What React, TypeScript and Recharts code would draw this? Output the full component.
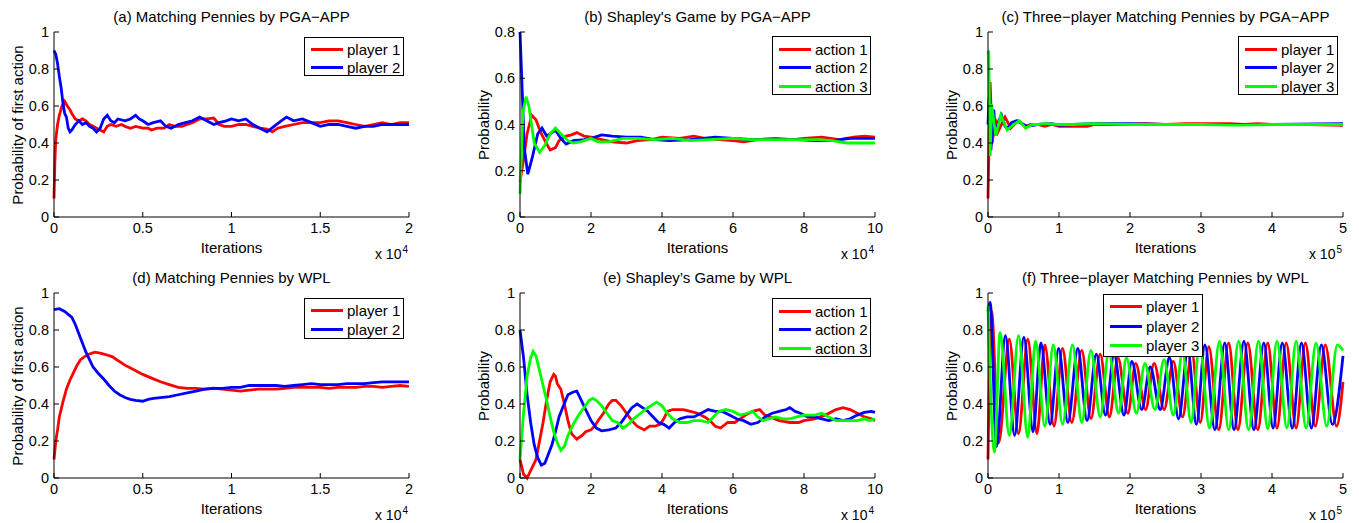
import React from 'react';
import { LineChart, Line, XAxis, YAxis, Legend } from 'recharts';

type Pt = [number, number];

const FONT = '"Liberation Sans", Arial, Helvetica, sans-serif';
const RED = '#ff0000';
const BLUE = '#0000ff';
const GREEN = '#00ff00';

// ---- tick label arrays ----
const xTicksA = [0, 0.5, 1, 1.5, 2];
const xTicksB = [0, 2, 4, 6, 8, 10];
const xTicksC = [0, 1, 2, 3, 4, 5];
const yTicks1 = [0, 0.2, 0.4, 0.6, 0.8, 1];
const yTicks08 = [0, 0.2, 0.4, 0.6, 0.8];

const playerNames = ['player 1', 'player 2', 'player 3'];
const actionNames = ['action 1', 'action 2', 'action 3'];

// ---- (a) Matching Pennies by PGA-APP (x in 1e4) ----
const aP1: Pt[] = [[0,0.1],[0.005,0.3],[0.01,0.42],[0.02,0.5],[0.03,0.55],[0.045,0.6],[0.06,0.625],[0.075,0.6],[0.09,0.58],[0.1,0.56],[0.12,0.53],[0.14,0.52],[0.16,0.53],[0.18,0.52],[0.2,0.5],[0.22,0.49],[0.24,0.48],[0.26,0.47],[0.28,0.46],[0.3,0.49],[0.32,0.5],[0.35,0.49],[0.38,0.5],[0.4,0.49],[0.43,0.48],[0.46,0.49],[0.5,0.48],[0.53,0.48],[0.55,0.47],[0.58,0.48],[0.62,0.48],[0.65,0.5],[0.68,0.49],[0.72,0.49],[0.75,0.5],[0.78,0.51],[0.82,0.53],[0.86,0.53],[0.9,0.535],[0.93,0.5],[0.96,0.49],[1.0,0.49],[1.04,0.5],[1.08,0.5],[1.12,0.49],[1.16,0.48],[1.2,0.475],[1.23,0.46],[1.26,0.48],[1.3,0.49],[1.35,0.5],[1.4,0.51],[1.45,0.51],[1.5,0.51],[1.55,0.52],[1.6,0.52],[1.65,0.51],[1.7,0.5],[1.75,0.49],[1.8,0.5],[1.85,0.51],[1.9,0.5],[1.95,0.51],[2.0,0.51]];
const aP2: Pt[] = [[0,0.9],[0.01,0.88],[0.02,0.83],[0.03,0.76],[0.04,0.7],[0.05,0.62],[0.06,0.56],[0.07,0.54],[0.08,0.48],[0.09,0.46],[0.1,0.47],[0.12,0.5],[0.14,0.52],[0.16,0.5],[0.18,0.51],[0.2,0.49],[0.22,0.48],[0.24,0.46],[0.26,0.48],[0.28,0.53],[0.3,0.55],[0.32,0.52],[0.34,0.51],[0.36,0.53],[0.4,0.52],[0.43,0.53],[0.46,0.55],[0.48,0.53],[0.5,0.52],[0.53,0.5],[0.56,0.51],[0.6,0.52],[0.63,0.49],[0.66,0.48],[0.7,0.5],[0.74,0.51],[0.78,0.52],[0.82,0.54],[0.86,0.52],[0.9,0.5],[0.93,0.51],[0.97,0.52],[1.0,0.53],[1.04,0.52],[1.08,0.53],[1.12,0.5],[1.16,0.48],[1.2,0.46],[1.24,0.49],[1.28,0.52],[1.31,0.54],[1.35,0.52],[1.4,0.53],[1.45,0.51],[1.5,0.49],[1.55,0.5],[1.6,0.5],[1.65,0.49],[1.7,0.48],[1.75,0.49],[1.8,0.49],[1.85,0.5],[1.9,0.5],[1.95,0.5],[2.0,0.5]];

// ---- (b) Shapley's Game by PGA-APP (x in 1e4) ----
const bA1: Pt[] = [[0,0.15],[0.1,0.25],[0.2,0.36],[0.33,0.44],[0.45,0.42],[0.6,0.36],[0.7,0.33],[0.85,0.29],[1.0,0.3],[1.1,0.33],[1.3,0.35],[1.45,0.355],[1.6,0.365],[1.8,0.35],[2.0,0.345],[2.3,0.335],[2.6,0.325],[3.0,0.32],[3.3,0.33],[3.7,0.335],[4.0,0.345],[4.5,0.34],[4.9,0.35],[5.2,0.34],[5.6,0.335],[6.0,0.33],[6.3,0.325],[6.7,0.335],[7.2,0.34],[7.7,0.335],[8.0,0.34],[8.5,0.345],[9.0,0.335],[9.4,0.345],[9.7,0.35],[10,0.345]];
const bA2: Pt[] = [[0,0.8],[0.05,0.6],[0.12,0.3],[0.22,0.185],[0.35,0.26],[0.5,0.36],[0.62,0.385],[0.75,0.35],[0.85,0.36],[1.0,0.375],[1.15,0.34],[1.3,0.315],[1.5,0.33],[1.8,0.335],[2.0,0.34],[2.3,0.355],[2.6,0.35],[3.0,0.345],[3.4,0.345],[3.8,0.335],[4.2,0.33],[4.8,0.335],[5.5,0.345],[6.0,0.34],[6.6,0.335],[7.2,0.335],[7.8,0.335],[8.3,0.33],[8.8,0.33],[9.3,0.34],[10,0.34]];
const bA3: Pt[] = [[0,0.1],[0.08,0.45],[0.17,0.52],[0.25,0.48],[0.4,0.32],[0.55,0.28],[0.7,0.31],[0.85,0.36],[1.0,0.385],[1.15,0.36],[1.35,0.33],[1.5,0.32],[1.7,0.325],[2.0,0.34],[2.2,0.325],[2.5,0.325],[2.9,0.34],[3.3,0.34],[3.8,0.335],[4.3,0.34],[4.8,0.33],[5.3,0.335],[6.0,0.34],[6.5,0.335],[7.2,0.335],[7.8,0.335],[8.4,0.335],[8.8,0.33],[9.2,0.32],[9.6,0.32],[10,0.32]];

// ---- (c) Three-player Matching Pennies by PGA-APP (x in 1e5) ----
const cP1: Pt[] = [[0,0.1],[0.03,0.73],[0.06,0.4],[0.1,0.53],[0.14,0.46],[0.24,0.54],[0.32,0.48],[0.42,0.52],[0.53,0.49],[0.6,0.5],[0.7,0.5],[0.8,0.49],[0.9,0.5],[1.0,0.49],[1.2,0.49],[1.4,0.49],[1.5,0.5],[1.7,0.5],[2.0,0.5],[2.2,0.505],[2.5,0.5],[2.8,0.505],[3.0,0.505],[3.4,0.505],[3.6,0.5],[3.8,0.505],[4.0,0.5],[4.5,0.5],[5,0.495]];
const cP2: Pt[] = [[0,0.5],[0.015,0.65],[0.04,0.36],[0.06,0.45],[0.08,0.58],[0.11,0.44],[0.15,0.52],[0.19,0.55],[0.24,0.49],[0.28,0.48],[0.33,0.51],[0.4,0.52],[0.46,0.51],[0.55,0.49],[0.7,0.5],[0.9,0.505],[1.0,0.495],[1.2,0.5],[1.5,0.505],[2,0.505],[2.5,0.5],[3,0.5],[3.5,0.5],[4,0.5],[5,0.505]];
const cP3: Pt[] = [[0,0.88],[0.01,0.9],[0.03,0.33],[0.05,0.61],[0.11,0.44],[0.18,0.55],[0.27,0.47],[0.36,0.5],[0.44,0.52],[0.53,0.48],[0.62,0.5],[0.7,0.5],[0.8,0.505],[1.0,0.5],[1.2,0.5],[1.5,0.505],[2,0.5],[2.5,0.5],[3,0.5],[3.5,0.497],[4,0.5],[4.5,0.5],[5,0.5]];

// ---- (d) Matching Pennies by WPL (x in 1e4) ----
const dP1: Pt[] = [[0,0.1],[0.01,0.2],[0.02,0.26],[0.03,0.33],[0.05,0.41],[0.07,0.48],[0.09,0.53],[0.11,0.57],[0.13,0.61],[0.15,0.64],[0.17,0.655],[0.2,0.67],[0.23,0.68],[0.26,0.675],[0.3,0.665],[0.33,0.655],[0.36,0.635],[0.4,0.61],[0.45,0.585],[0.5,0.56],[0.55,0.54],[0.6,0.52],[0.65,0.505],[0.7,0.49],[0.75,0.485],[0.8,0.485],[0.85,0.48],[0.9,0.485],[0.95,0.48],[1.0,0.475],[1.05,0.47],[1.1,0.475],[1.15,0.48],[1.2,0.48],[1.25,0.48],[1.3,0.485],[1.35,0.49],[1.4,0.49],[1.45,0.49],[1.5,0.49],[1.55,0.485],[1.6,0.49],[1.65,0.49],[1.7,0.49],[1.75,0.495],[1.8,0.495],[1.85,0.49],[1.9,0.495],[1.95,0.5],[2.0,0.495]];
const dP2: Pt[] = [[0,0.91],[0.03,0.915],[0.06,0.9],[0.08,0.885],[0.1,0.87],[0.12,0.83],[0.14,0.78],[0.16,0.73],[0.18,0.68],[0.2,0.64],[0.22,0.6],[0.25,0.565],[0.28,0.535],[0.31,0.5],[0.34,0.47],[0.37,0.45],[0.4,0.435],[0.43,0.425],[0.46,0.42],[0.5,0.415],[0.53,0.425],[0.56,0.43],[0.6,0.435],[0.65,0.44],[0.7,0.45],[0.75,0.46],[0.8,0.47],[0.85,0.48],[0.9,0.485],[0.95,0.485],[1.0,0.49],[1.05,0.49],[1.1,0.5],[1.15,0.5],[1.2,0.5],[1.25,0.5],[1.3,0.495],[1.35,0.5],[1.4,0.505],[1.45,0.51],[1.5,0.505],[1.55,0.505],[1.6,0.505],[1.65,0.51],[1.7,0.51],[1.75,0.51],[1.8,0.515],[1.85,0.52],[1.9,0.52],[1.95,0.52],[2.0,0.52]];

// ---- (e) Shapley's Game by WPL (x in 1e4) ----
const eA1: Pt[] = [[0,0.1],[0.1,0.02],[0.2,0.0],[0.3,0.04],[0.45,0.1],[0.55,0.2],[0.65,0.3],[0.75,0.42],[0.85,0.52],[0.95,0.56],[1.0,0.55],[1.05,0.51],[1.15,0.48],[1.25,0.4],[1.35,0.31],[1.45,0.24],[1.6,0.21],[1.75,0.23],[1.85,0.25],[2.0,0.26],[2.1,0.28],[2.2,0.31],[2.35,0.35],[2.5,0.4],[2.6,0.42],[2.7,0.42],[2.85,0.39],[3.0,0.35],[3.15,0.31],[3.3,0.28],[3.5,0.26],[3.65,0.28],[3.8,0.28],[3.95,0.29],[4.05,0.32],[4.15,0.36],[4.3,0.37],[4.45,0.37],[4.6,0.37],[4.8,0.36],[5.0,0.35],[5.2,0.33],[5.35,0.31],[5.5,0.28],[5.65,0.27],[5.85,0.3],[6.05,0.3],[6.2,0.32],[6.35,0.34],[6.55,0.36],[6.75,0.37],[6.9,0.34],[7.05,0.33],[7.3,0.31],[7.6,0.3],[7.85,0.3],[8.0,0.31],[8.3,0.32],[8.6,0.34],[8.9,0.37],[9.1,0.38],[9.3,0.37],[9.5,0.35],[9.7,0.33],[9.9,0.32],[10,0.31]];
const eA2: Pt[] = [[0,0.8],[0.1,0.65],[0.2,0.45],[0.3,0.3],[0.4,0.18],[0.5,0.11],[0.6,0.07],[0.7,0.08],[0.8,0.13],[0.9,0.18],[1.0,0.25],[1.1,0.33],[1.2,0.38],[1.35,0.45],[1.5,0.465],[1.6,0.47],[1.7,0.43],[1.85,0.37],[2.0,0.31],[2.15,0.27],[2.3,0.255],[2.5,0.26],[2.7,0.27],[2.85,0.3],[3.0,0.34],[3.15,0.38],[3.3,0.4],[3.45,0.38],[3.6,0.36],[3.75,0.33],[3.9,0.3],[4.05,0.29],[4.2,0.27],[4.35,0.3],[4.5,0.32],[4.7,0.33],[4.9,0.33],[5.1,0.35],[5.3,0.37],[5.5,0.36],[5.7,0.36],[5.9,0.34],[6.1,0.32],[6.3,0.31],[6.5,0.29],[6.7,0.3],[6.9,0.33],[7.1,0.35],[7.3,0.36],[7.5,0.37],[7.6,0.38],[7.75,0.36],[7.9,0.35],[8.1,0.33],[8.3,0.33],[8.5,0.32],[8.7,0.31],[8.9,0.32],[9.1,0.31],[9.3,0.32],[9.5,0.34],[9.7,0.355],[9.9,0.36],[10,0.355]];
const eA3: Pt[] = [[0,0.1],[0.1,0.35],[0.2,0.55],[0.3,0.65],[0.37,0.685],[0.45,0.66],[0.55,0.58],[0.65,0.5],[0.75,0.42],[0.85,0.33],[0.95,0.25],[1.05,0.19],[1.15,0.15],[1.25,0.17],[1.35,0.23],[1.5,0.29],[1.65,0.34],[1.8,0.38],[1.95,0.42],[2.05,0.43],[2.15,0.42],[2.3,0.39],[2.45,0.35],[2.6,0.31],[2.75,0.3],[2.9,0.27],[3.05,0.29],[3.2,0.32],[3.4,0.35],[3.6,0.38],[3.85,0.41],[4.0,0.39],[4.15,0.35],[4.3,0.32],[4.5,0.3],[4.7,0.3],[4.9,0.31],[5.1,0.31],[5.3,0.3],[5.45,0.33],[5.6,0.36],[5.8,0.37],[6.0,0.36],[6.2,0.34],[6.4,0.35],[6.55,0.36],[6.7,0.33],[6.85,0.31],[7.0,0.32],[7.2,0.33],[7.4,0.32],[7.6,0.32],[7.8,0.33],[8.0,0.34],[8.3,0.34],[8.5,0.35],[8.7,0.33],[8.9,0.31],[9.1,0.31],[9.3,0.31],[9.5,0.31],[9.7,0.32],[9.85,0.31],[10,0.32]];

// ---- (f) Three-player Matching Pennies by WPL (x in 1e5), extrema ----
const fP1: Pt[] = [[0,0.1],[0.05,0.9],[0.15,0.19],[0.3,0.75],[0.43,0.24],[0.56,0.75],[0.69,0.24],[0.8,0.72],[0.93,0.28],[1.05,0.7],[1.18,0.3],[1.32,0.69],[1.45,0.32],[1.58,0.67],[1.71,0.33],[1.83,0.65],[1.97,0.35],[2.08,0.62],[2.22,0.37],[2.34,0.62],[2.48,0.37],[2.61,0.63],[2.74,0.33],[2.87,0.68],[2.99,0.3],[3.11,0.71],[3.25,0.26],[3.39,0.73],[3.52,0.26],[3.66,0.73],[3.8,0.26],[3.94,0.73],[4.07,0.27],[4.2,0.73],[4.34,0.27],[4.47,0.73],[4.61,0.28],[4.75,0.72],[4.91,0.28],[5.0,0.52]];
const fP2: Pt[] = [[0,0.9],[0.03,0.95],[0.12,0.17],[0.245,0.77],[0.375,0.23],[0.505,0.76],[0.635,0.25],[0.745,0.73],[0.875,0.29],[0.995,0.7],[1.125,0.3],[1.265,0.7],[1.395,0.31],[1.525,0.67],[1.655,0.34],[1.775,0.67],[1.915,0.34],[2.025,0.63],[2.165,0.37],[2.285,0.6],[2.425,0.37],[2.555,0.65],[2.685,0.32],[2.815,0.69],[2.935,0.29],[3.055,0.72],[3.195,0.26],[3.335,0.73],[3.465,0.26],[3.605,0.74],[3.745,0.26],[3.885,0.73],[4.015,0.27],[4.145,0.73],[4.285,0.27],[4.415,0.73],[4.555,0.27],[4.695,0.72],[4.85,0.29],[5.0,0.66]];
const fP3: Pt[] = [[0,0.93],[0.09,0.14],[0.17,0.785],[0.3,0.23],[0.43,0.77],[0.56,0.22],[0.67,0.74],[0.8,0.28],[0.92,0.72],[1.05,0.29],[1.19,0.72],[1.32,0.3],[1.45,0.69],[1.58,0.33],[1.7,0.68],[1.84,0.35],[1.95,0.65],[2.09,0.35],[2.21,0.62],[2.35,0.37],[2.48,0.64],[2.61,0.34],[2.74,0.68],[2.86,0.3],[2.98,0.72],[3.12,0.27],[3.26,0.74],[3.39,0.26],[3.53,0.74],[3.67,0.26],[3.81,0.74],[3.94,0.265],[4.07,0.74],[4.21,0.27],[4.34,0.74],[4.48,0.27],[4.62,0.73],[4.77,0.28],[4.92,0.72],[5.0,0.69]];

// ---- layout constants ----
const W = 420;
const H = 262;
const PL = 54;
const PT = 32;
const PW = 355;
const PH = 185;
const XH = 30;

type Series = { name: string; color: string; pts: Pt[] };
type LegendBox = { x: number; y: number; w: number; h: number; row: number; pad: number };

const BoxLegend = ({ payload, box }: { payload?: any[]; box: LegendBox }) => (
  <div
    style={{
      width: box.w,
      height: box.h,
      border: '1px solid #000',
      background: '#fff',
      boxSizing: 'border-box',
      paddingTop: box.pad,
      fontFamily: FONT,
    }}
  >
    {(payload || []).map((p: any) => (
      <div key={p.value} style={{ display: 'flex', alignItems: 'center', height: box.row }}>
        <div style={{ width: 32, height: 3, background: p.color, marginLeft: 6, marginRight: 4 }} />
        <span style={{ fontSize: 15, lineHeight: '15px', color: '#000', whiteSpace: 'nowrap' }}>{p.value}</span>
      </div>
    ))}
  </div>
);

function Panel(props: {
  x: number;
  y: number;
  title: string;
  ylabel: string;
  xmax: number;
  xticks: number[];
  ymax: number;
  yticks: number[];
  exp: string;
  series: Series[];
  curve: 'linear' | 'monotone';
  legend: LegendBox;
}) {
  const { x, y, title, ylabel, xmax, xticks, ymax, yticks, exp, series, curve, legend } = props;
  const axisLine = { stroke: '#000', strokeWidth: 1 };
  const tickLine = { stroke: '#000', strokeWidth: 1 };
  const tickStyle = { fill: '#000', fontSize: 14.5, fontFamily: FONT };
  const cx = PL + PW / 2;
  return (
    <div style={{ position: 'absolute', left: x, top: y, width: W, height: H }}>
      <LineChart
        width={W}
        height={H}
        margin={{ top: PT, right: W - PL - PW, bottom: H - PT - PH - XH, left: PL - 40 }}
      >
        <XAxis
          type="number"
          dataKey="x"
          domain={[0, xmax]}
          ticks={xticks}
          interval={0}
          height={XH}
          tickSize={-5}
          tickMargin={11}
          axisLine={axisLine}
          tickLine={tickLine}
          tick={tickStyle}
        />
        <XAxis
          xAxisId="top"
          orientation="top"
          type="number"
          dataKey="x"
          domain={[0, xmax]}
          ticks={xticks}
          interval={0}
          allowDataOverflow
          height={0}
          tickSize={-5}
          axisLine={axisLine}
          tickLine={tickLine}
          tick={false}
        />
        <YAxis
          type="number"
          domain={[0, ymax]}
          ticks={yticks}
          interval={0}
          width={40}
          tickSize={-5}
          tickMargin={10}
          axisLine={axisLine}
          tickLine={tickLine}
          tick={tickStyle}
        />
        <YAxis
          yAxisId="right"
          orientation="right"
          type="number"
          domain={[0, ymax]}
          ticks={yticks}
          interval={0}
          allowDataOverflow
          width={0}
          tickSize={-5}
          axisLine={axisLine}
          tickLine={tickLine}
          tick={false}
        />
        {series.map((s) => (
          <Line
            key={s.name}
            data={s.pts.map(([px, py]) => ({ x: px, y: py }))}
            dataKey="y"
            name={s.name}
            stroke={s.color}
            strokeWidth={2.8}
            dot={false}
            activeDot={false}
            type={curve}
            legendType="line"
            isAnimationActive={false}
          />
        ))}
        <Legend
          layout="horizontal"
          verticalAlign="middle"
          align="center"
          wrapperStyle={{ left: legend.x, top: legend.y, width: legend.w, height: legend.h }}
          content={(p: any) => <BoxLegend payload={p.payload} box={legend} />}
        />
      </LineChart>
      <div style={{ position: 'absolute', left: cx, top: 16, transform: 'translate(-50%,-50%)', fontFamily: FONT, fontSize: 15, lineHeight: 1, whiteSpace: 'nowrap', color: '#000' }}>
        {title}
      </div>
      <div style={{ position: 'absolute', left: 17, top: PT + PH / 2, transform: 'translate(-50%,-50%) rotate(-90deg)', fontFamily: FONT, fontSize: 15, lineHeight: 1, whiteSpace: 'nowrap', color: '#000' }}>
        {ylabel}
      </div>
      <div style={{ position: 'absolute', left: cx, top: 246.5, transform: 'translate(-50%,-50%)', fontFamily: FONT, fontSize: 15, lineHeight: 1, whiteSpace: 'nowrap', color: '#000' }}>
        Iterations
      </div>
      <div style={{ position: 'absolute', right: W - PL - PW + 1, top: 254, transform: 'translateY(-50%)', fontFamily: FONT, fontSize: 14, lineHeight: 1, whiteSpace: 'nowrap', color: '#000' }}>
        x 10<span style={{ fontSize: 10, position: 'relative', top: -6, marginLeft: 1 }}>{exp}</span>
      </div>
    </div>
  );
}

const leg2: LegendBox = { x: 304, y: 37, w: 100, h: 39, row: 18, pad: 2 };
const leg3: LegendBox = { x: 306, y: 36, w: 99, h: 59, row: 18.5, pad: 3 };

export default function App() {
  return (
    <div style={{ position: 'absolute', left: 0, top: 0, width: 1359, height: 523, background: '#fff', overflow: 'hidden' }}>
      <Panel
        x={0} y={0}
        title="(a) Matching Pennies by PGA−APP"
        ylabel="Probability of first action"
        xmax={2} xticks={xTicksA} ymax={1} yticks={yTicks1} exp="4"
        series={[{ name: playerNames[0], color: RED, pts: aP1 }, { name: playerNames[1], color: BLUE, pts: aP2 }]}
        curve="linear"
        legend={leg2}
      />
      <Panel
        x={466} y={0}
        title="(b) Shapley's Game by PGA−APP"
        ylabel="Probability"
        xmax={10} xticks={xTicksB} ymax={0.8} yticks={yTicks08} exp="4"
        series={[{ name: actionNames[0], color: RED, pts: bA1 }, { name: actionNames[1], color: BLUE, pts: bA2 }, { name: actionNames[2], color: GREEN, pts: bA3 }]}
        curve="linear"
        legend={leg3}
      />
      <Panel
        x={934} y={0}
        title="(c) Three−player Matching Pennies by PGA−APP"
        ylabel="Probability"
        xmax={5} xticks={xTicksC} ymax={1} yticks={yTicks1} exp="5"
        series={[{ name: playerNames[0], color: RED, pts: cP1 }, { name: playerNames[1], color: BLUE, pts: cP2 }, { name: playerNames[2], color: GREEN, pts: cP3 }]}
        curve="linear"
        legend={{ ...leg3, x: 304, w: 100 }}
      />
      <Panel
        x={0} y={261}
        title="(d) Matching Pennies by WPL"
        ylabel="Probability of first action"
        xmax={2} xticks={xTicksA} ymax={1} yticks={yTicks1} exp="4"
        series={[{ name: playerNames[0], color: RED, pts: dP1 }, { name: playerNames[1], color: BLUE, pts: dP2 }]}
        curve="linear"
        legend={{ ...leg2, h: 41, row: 19 }}
      />
      <Panel
        x={466} y={261}
        title="(e) Shapley’s Game by WPL"
        ylabel="Probability"
        xmax={10} xticks={xTicksB} ymax={1} yticks={yTicks1} exp="4"
        series={[{ name: actionNames[0], color: RED, pts: eA1 }, { name: actionNames[1], color: BLUE, pts: eA2 }, { name: actionNames[2], color: GREEN, pts: eA3 }]}
        curve="linear"
        legend={{ ...leg3, y: 37 }}
      />
      <Panel
        x={934} y={261}
        title="(f) Three−player Matching Pennies by WPL"
        ylabel="Probability"
        xmax={5} xticks={xTicksC} ymax={1} yticks={yTicks1} exp="5"
        series={[{ name: playerNames[0], color: RED, pts: fP1 }, { name: playerNames[1], color: BLUE, pts: fP2 }, { name: playerNames[2], color: GREEN, pts: fP3 }]}
        curve="monotone"
        legend={{ x: 169, y: 33, w: 100, h: 63, row: 19.5, pad: 2 }}
      />
    </div>
  );
}
